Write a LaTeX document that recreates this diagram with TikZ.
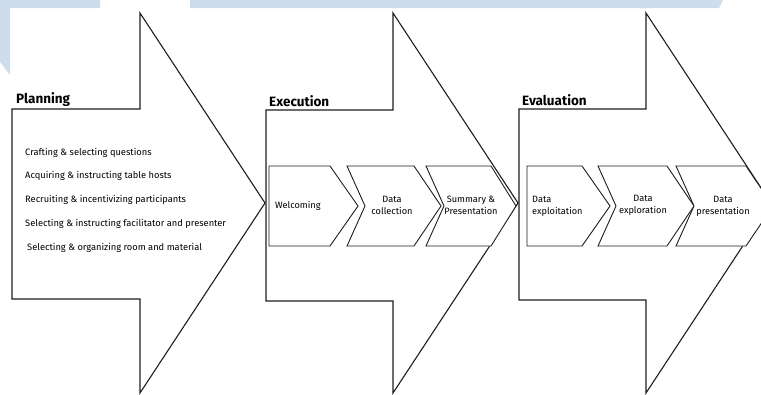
\documentclass[tikz,border=0pt]{standalone}
\usepackage{fontspec}
\setmainfont{Fira Sans}
\definecolor{bandblue}{RGB}{205,221,236}
\definecolor{ink}{RGB}{30,30,30}
\begin{document}
\begin{tikzpicture}[x=1pt,y=-1pt,
  bigarrow/.style={draw=ink,line width=1.1pt,fill=white,line join=miter},
  chev/.style={draw=ink,line width=0.9pt,fill=white,line join=miter},
  phase/.style={font=\fontsize{13.5}{15}\selectfont\bfseries,anchor=west,inner sep=0pt},
  task/.style={font=\fontsize{9.3}{11}\selectfont,anchor=west,inner sep=0pt},
  steplabel/.style={font=\fontsize{9.2}{12}\selectfont,align=center,inner sep=0pt},
  steplabelL/.style={font=\fontsize{9.2}{12}\selectfont,align=left,anchor=west,inner sep=0pt}]
\useasboundingbox (0,0) rectangle (761,394);
\begin{scope}
\clip (0,0) rectangle (761,394);
% pale blue band along the top edge
\fill[bandblue] (0,0) -- (100,0) -- (100,8) -- (10,8) -- (10,75) -- (0,62) -- cycle;
\fill[bandblue] (190,0) -- (723,0) -- (719,8) -- (190,8) -- cycle;

% three phase arrows
\draw[bigarrow] (12,109) -- (140,109) -- (140,13) -- (265,203) -- (140,393) -- (140,299) -- (12,299) -- cycle;
\draw[bigarrow] (266,110) -- (393,110) -- (393,13) -- (518,203) -- (393,393) -- (393,301) -- (266,301) -- cycle;
\draw[bigarrow] (519,109) -- (646,109) -- (646,13) -- (771,203) -- (646,393) -- (646,300) -- (519,300) -- cycle;

% step chevrons: left, notch, right, tip
\newcommand{\stepchev}[4]{\draw[chev] (#1,166) -- (#3,166) -- (#4,206) -- (#3,246) -- (#1,246) -- (#2,206) -- cycle;}
\stepchev{269}{269}{330}{358}
\stepchev{347}{365}{414}{441}
\stepchev{426}{444}{491}{516}
\stepchev{527}{527}{582}{610}
\stepchev{598}{616}{667}{694}
\stepchev{676}{694}{746}{773}
\end{scope}

% phase titles
\node[phase] (plan) at (16,100) {Planning};
\node[phase] (exec) at (269,101) {Execution};
\node[phase] (eval) at (522,100) {Evaluation};

% planning tasks
\node[task] (t1) at (25,153) {Crafting \& selecting questions};
\node[task] (t2) at (25,176) {Acquiring \& instructing table hosts};
\node[task] (t3) at (25,200) {Recruiting \& incentivizing participants};
\node[task] (t4) at (25,224) {Selecting \& instructing facilitator and presenter};
\node[task] (t5) at (27,248) {Selecting \& organizing room and material};

% step labels
\node[steplabelL] (s1) at (275,206) {Welcoming};
\node[steplabel] (s2) at (392,205) {Data\\collection};
\node[steplabel] (s3) at (471,205) {Summary \&\\Presentation};
\node[steplabelL] (s4) at (532,206) {Data\\exploitation};
\node[steplabel] (s5) at (643,205) {Data\\exploration};
\node[steplabel] (s6) at (723,206) {Data\\presentation};
\end{tikzpicture}
\end{document}
